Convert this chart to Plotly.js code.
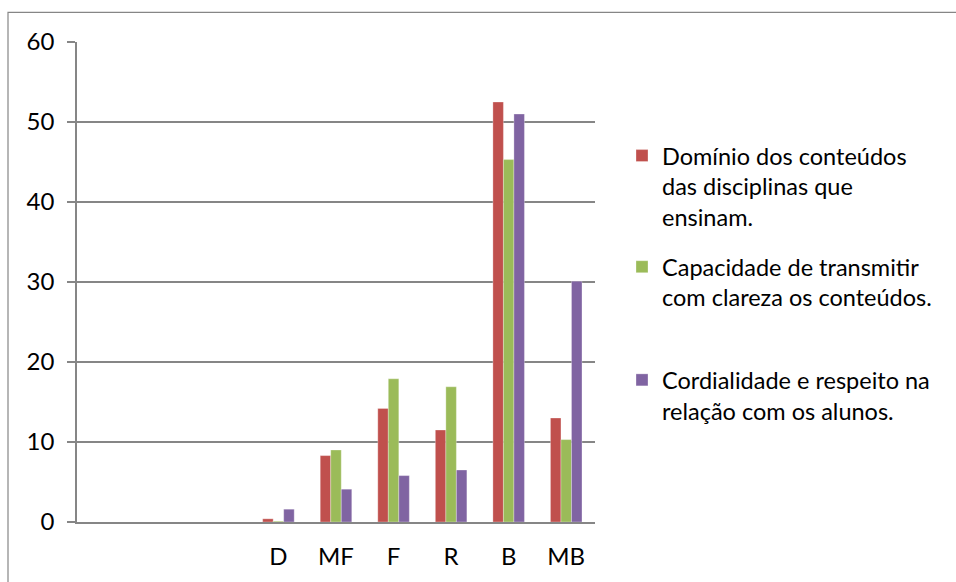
<!DOCTYPE html>
<html>
<head>
<meta charset="utf-8">
<script src="https://cdn.plot.ly/plotly-3.0.1.min.js"></script>
<style>
html,body{margin:0;padding:0;background:#fff;}
#chart{width:956px;height:582px;}
</style>
</head>
<body>
<div id="chart"></div>
<script>
// Data
const categories = ['', '', '', 'D', 'MF', 'F', 'R', 'B', 'MB'];
const seriesNames = [
  'Domínio dos conteúdos<br>das disciplinas que<br>ensinam.',
  'Capacidade de transmitir<br>com clareza os conteúdos.',
  'Cordialidade e respeito na<br>relação com os alunos.'
];
const dominio = [null, null, null, 0.4, 8.3, 14.2, 11.5, 52.5, 13.0];
const capacidade = [null, null, null, 0.1, 9.0, 17.9, 16.9, 45.3, 10.3];
const cordialidade = [null, null, null, 1.6, 4.1, 5.8, 6.5, 51.0, 30.1];
const yTicks = [0, 10, 20, 30, 40, 50, 60];

const colors = ['#C0504D', '#9BBB59', '#8064A2'];
const xIdx = categories.map((c, i) => i);
const labelIdx = xIdx.filter(i => categories[i] !== '');
const boundaries = [];
for (let i = 0; i <= categories.length; i++) boundaries.push(i - 0.5);

const font = {family: 'Lato, "Open Sans", sans-serif', size: 24, color: '#000'};
const legendFont = {family: 'Lato, "Open Sans", sans-serif', size: 23.5, color: '#000'};
const gridColor = '#868686';

const allSeries = [dominio, capacidade, cordialidade];
const legendIds = ['legend', 'legend2', 'legend3'];
const traces = allSeries.map((vals, k) => ({
  type: 'bar',
  x: xIdx,
  y: vals,
  name: seriesNames[k],
  legend: legendIds[k],
  marker: {color: colors[k], line: {width: 0.6, color: 'rgba(255,255,255,0.5)'}},
  hoverinfo: 'x+y'
}));

const W = 518, H = 479.4, L = 77, T = 42.3;
function px(x) { return (x - L) / W; }
function py(y) { return (T + H - y) / H; }

function legendAt(yTop) {
  return {
    x: px(622), y: py(yTop), xanchor: 'left', yanchor: 'top',
    font: legendFont, bgcolor: 'rgba(0,0,0,0)', borderwidth: 0,
    valign: 'top', itemclick: false, itemdoubleclick: false
  };
}

const layout = {
  width: 956, height: 582,
  margin: {l: L, r: 956 - 595, t: T, b: 582 - (T + H), pad: 0},
  paper_bgcolor: '#fff', plot_bgcolor: '#fff',
  font: font,
  barmode: 'group', bargap: 0.452, bargroupgap: 0,
  showlegend: true,
  legend: legendAt(134),
  legend2: legendAt(245),
  legend3: legendAt(358),
  xaxis: {
    type: 'linear', range: [-0.5, categories.length - 0.5],
    tickmode: 'array', tickvals: labelIdx, ticktext: labelIdx.map(i => categories[i]),
    ticks: '', showgrid: false, zeroline: false,
    showline: true, linecolor: gridColor, linewidth: 1.5,
    tickfont: font, ticklabelstandoff: 12, fixedrange: true
  },
  xaxis2: {
    type: 'linear', overlaying: 'x', anchor: 'y', side: 'bottom',
    range: [-0.5, categories.length - 0.5],
    tickmode: 'array', tickvals: boundaries, ticks: 'outside', ticklen: 8,
    tickcolor: gridColor, tickwidth: 1.5, showticklabels: false,
    showgrid: false, zeroline: false, showline: false, fixedrange: true
  },
  yaxis: {
    range: [0, 60], tickmode: 'array', tickvals: yTicks,
    ticks: 'outside', ticklen: 8, tickcolor: gridColor, tickwidth: 1.5,
    showgrid: true, gridcolor: gridColor, gridwidth: 1.5,
    zeroline: false, showline: true, linecolor: gridColor, linewidth: 1.5,
    tickfont: font, ticklabelstandoff: 8, fixedrange: true
  },
  shapes: [{
    type: 'rect', xref: 'paper', yref: 'paper',
    x0: px(8), x1: px(1100), y0: py(12.7), y1: py(700),
    line: {color: gridColor, width: 1.2}, fillcolor: 'rgba(0,0,0,0)', layer: 'below'
  }]
};

Plotly.newPlot('chart', traces, layout, {displayModeBar: false, staticPlot: false});
</script>
</body>
</html>
